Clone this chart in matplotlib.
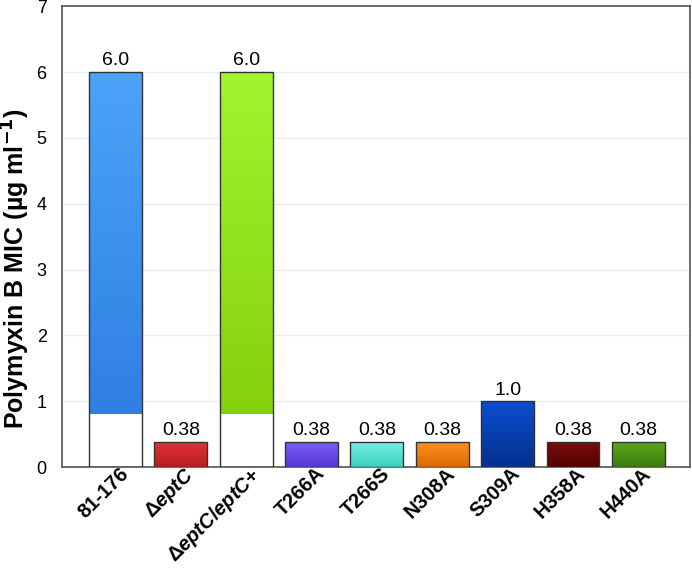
import numpy as np
import matplotlib
matplotlib.use('Agg')
import matplotlib.pyplot as plt
from matplotlib.colors import LinearSegmentedColormap
from matplotlib.transforms import ScaledTranslation

plt.rcParams['font.family'] = ['Liberation Sans', 'DejaVu Sans']
plt.rcParams['mathtext.fontset'] = 'custom'
plt.rcParams['mathtext.rm'] = 'Liberation Sans:bold'
plt.rcParams['mathtext.it'] = 'Liberation Sans:bold:italic'

# dữ liệu
strains = ['81-176', r'$\mathrm{Δ}\mathit{eptC}$', r'$\mathrm{Δ}\mathit{eptC/eptC}\mathrm{+}$',
           'T266A', 'T266S', 'N308A', 'S309A', 'H358A', 'H440A']
mic = [6.0, 0.38, 6.0, 0.38, 0.38, 0.38, 1.0, 0.38, 0.38]
mic_labels = ['6.0', '0.38', '6.0', '0.38', '0.38', '0.38', '1.0', '0.38', '0.38']
white_base = [0.8, 0, 0.8, 0, 0, 0, 0, 0, 0]
top_colors = ['#4da3f7', '#e4343c', '#a2f52c', '#7d5ef7', '#72f2e2', '#ff8f1e', '#0c4ed0', '#7c0c0c', '#5ca91a']
bottom_colors = ['#2f7fe2', '#b81c1c', '#84d10c', '#5838d6', '#3fcfbf', '#de6a00', '#04308e', '#560202', '#3b7a0e']

fig = plt.figure(figsize=(6.92, 5.69), dpi=100)
ax = fig.add_axes([0.0896, 0.179, 0.9074, 0.81])

x = np.arange(len(strains))
width = 0.81

# phần màu (không viền), phía trên phần trắng
heights = [m - b for m, b in zip(mic, white_base)]
bars = ax.bar(x, heights, bottom=white_base, width=width, color='none', linewidth=0, zorder=3)

# tô gradient cho từng cột
for i, rect in enumerate(bars):
    cmap = LinearSegmentedColormap.from_list('g%d' % i, [bottom_colors[i], top_colors[i]])
    x0, y0 = rect.get_x(), rect.get_y()
    grad = np.linspace(0, 1, 256).reshape(-1, 1)
    im = ax.imshow(grad, cmap=cmap, origin='lower', aspect='auto',
                   extent=[x0, x0 + rect.get_width(), y0, y0 + rect.get_height()], zorder=3)
    im.set_clip_path(rect)

# viền cột toàn bộ chiều cao
ax.bar(x, mic, width=width, color='none', edgecolor='#333333', linewidth=1, zorder=4)

for i in range(len(strains)):
    ax.text(x[i], mic[i] + 0.04, mic_labels[i], ha='center', va='bottom', fontsize=14, zorder=5)

ax.set_xlim(-0.82, 8.79)
ax.set_ylim(0, 7)
ax.set_yticks(range(0, 8))
ax.tick_params(axis='y', length=0, labelsize=13, pad=11)
ax.tick_params(axis='x', length=0, pad=2)
ax.set_xticks(x)
ax.set_xticklabels(strains, rotation=45, ha='right', rotation_mode='anchor',
                   fontsize=14.5, fontweight='bold')
shift = ScaledTranslation(0.03, 0.06, fig.dpi_scale_trans)
for lab in ax.get_xticklabels():
    lab.set_transform(lab.get_transform() + shift)
ax.yaxis.grid(True, color='#e3eef6', linewidth=0.9, zorder=0)
ax.set_axisbelow(True)
for s in ax.spines.values():
    s.set_color('#555555')
    s.set_linewidth(1.2)

ax.set_ylabel(r'Polymyxin B MIC (µg ml$^{\mathbf{-1}}$)', fontsize=18, fontweight='bold')
ax.yaxis.set_label_coords(-0.047, 0.43)

fig.savefig('out.png', dpi=100)
